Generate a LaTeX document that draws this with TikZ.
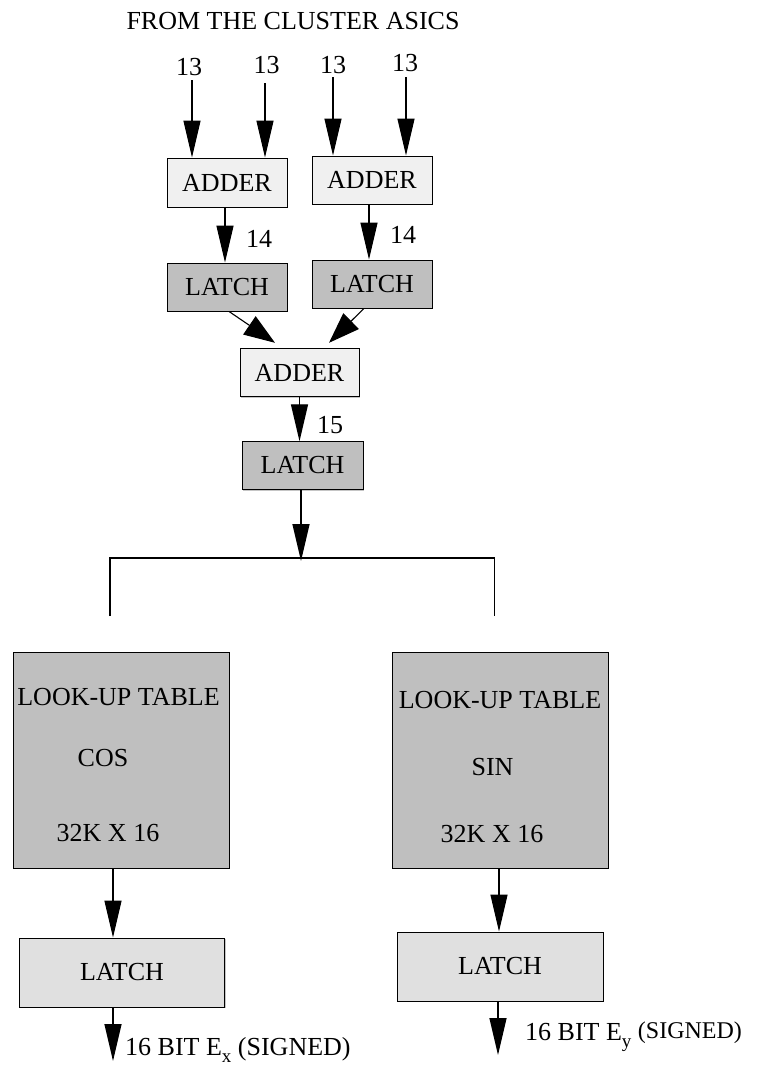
\documentclass[tikz,border=0pt]{standalone}
\usepackage{fontspec}
\setmainfont{Liberation Serif}
\usetikzlibrary{arrows.meta,shadows}
\definecolor{adderfill}{gray}{0.94}
\definecolor{latchfill}{gray}{0.75}
\definecolor{outfill}{gray}{0.88}
\begin{document}
\begin{tikzpicture}[x=1pt,y=-1pt,
  every node/.style={font=\fontsize{26}{30}\selectfont},
  blk/.style={draw=black, line width=0.9pt, inner sep=0pt,
    drop shadow={shadow xshift=1.3pt, shadow yshift=-1.3pt, opacity=0.45}},
  adderbox/.style={blk, fill=adderfill},
  latchbox/.style={blk, fill=latchfill},
  outbox/.style={blk, fill=outfill},
  lbl/.style={inner sep=0pt},
  arr/.style={line width=1.3pt, -{Triangle[length=37pt,width=17pt]}},
  darr/.style={line width=1.1pt, -{Triangle[length=31pt,width=22pt]}},
  wire/.style={line width=1.1pt}
]
\fill[white] (0,0) rectangle (756,1068);
\useasboundingbox (0,0) rectangle (756,1068);

% title
\node[lbl] (title) at (293,21.5) {FROM THE CLUSTER ASICS};

% first stage
\node[adderbox, minimum width=120pt, minimum height=49pt] (a1) at (227,182.5) {ADDER};
\node[adderbox, minimum width=120pt, minimum height=48pt] (a2) at (372,180) {ADDER};
\node[latchbox, minimum width=120pt, minimum height=48pt] (l1) at (227,287) {LATCH};
\node[latchbox, minimum width=120pt, minimum height=48pt] (l2) at (372,284) {LATCH};

% second stage
\node[adderbox, minimum width=119pt, minimum height=48.5pt] (a3) at (299.5,372.5) {ADDER};
\node[latchbox, minimum width=121pt, minimum height=47.5pt] (l3) at (302.5,465.5) {LATCH};

% look-up tables
\node[latchbox, minimum width=216pt, minimum height=216pt] (lutc) at (121,760) {};
\node[latchbox, minimum width=216pt, minimum height=216pt] (luts) at (500,760) {};
\node[lbl] (tc1) at (118.5,697.5) {LOOK-UP TABLE};
\node[lbl] (tc2) at (103,758.5) {COS};
\node[lbl] (tc3) at (108,833.5) {32K X 16};
\node[lbl] (ts1) at (500,700) {LOOK-UP TABLE};
\node[lbl] (ts2) at (492.5,767.5) {SIN};
\node[lbl] (ts3) at (492,834.5) {32K X 16};

% output latches
\node[outbox, minimum width=205pt, minimum height=69pt] (lx) at (122,972.5) {LATCH};
\node[outbox, minimum width=206pt, minimum height=69pt] (ly) at (500,966.5) {LATCH};

% input arrows
\coordinate (i1) at (192,80);
\coordinate (i2) at (265,83);
\coordinate (i3) at (333,77);
\coordinate (i4) at (406,77);
\node[lbl] (n1) at (189,67) {13};
\node[lbl] (n2) at (266.5,65) {13};
\node[lbl] (n3) at (333,65.5) {13};
\node[lbl] (n4) at (405,63) {13};
\draw[arr] (i1) -- (i1 |- a1.north);
\draw[arr] (i2) -- (i2 |- a1.north);
\draw[arr] (i3) -- (i3 |- a2.north);
\draw[arr] (i4) -- (i4 |- a2.north);

% adder -> latch
\coordinate (x1) at (225,0);
\coordinate (x2) at (369,0);
\draw[arr] (a1.south -| x1) -- (l1.north -| x1);
\draw[arr] (a2.south -| x2) -- (l2.north -| x2);
\node[lbl] (w1) at (259,238.5) {14};
\node[lbl] (w2) at (403,235) {14};

% latches -> adder (diagonal)
\coordinate (d1s) at (229,0);
\coordinate (d1e) at (275,0);
\coordinate (d2s) at (364,0);
\coordinate (d2e) at (329,0);
\draw[darr] (l1.south -| d1s) -- ([yshift=5pt]a3.north -| d1e);
\draw[darr] (l2.south -| d2s) -- ([yshift=5pt]a3.north -| d2e);

% adder -> latch 3
\coordinate (x3) at (299.5,0);
\draw[arr] (a3.south -| x3) -- (l3.north -| x3);
\node[lbl] (w3) at (330,425.5) {15};

% split bracket
\coordinate (sp) at (301,558);
\coordinate (bl) at (110,558);
\coordinate (br) at (494.5,558);
\coordinate (bld) at (110,616);
\coordinate (brd) at (494.5,616);
\draw[arr] (l3.south -| sp) -- ([yshift=-3pt]sp);
\draw[wire] (bld) -- (bl) -- (br) -- (brd);

% lut -> latch
\coordinate (x4) at (113,0);
\coordinate (x5) at (499,0);
\draw[arr] (lutc.south -| x4) -- (lx.north -| x4);
\draw[arr] (luts.south -| x5) -- (ly.north -| x5);

% outputs
\coordinate (ox) at (113,1061);
\coordinate (oy) at (498,1055);
\draw[arr] (lx.south -| ox) -- (ox);
\draw[arr] (ly.south -| oy) -- (oy);
\node[lbl, anchor=base west] (ex) at (125,1055) {16 BIT E\raisebox{-7pt}{\fontsize{19}{19}\selectfont x} (SIGNED)};
\node[lbl, anchor=base west] (ey) at (525,1040) {16 BIT E\raisebox{-7pt}{\fontsize{19}{19}\selectfont y} \raisebox{2pt}{\fontsize{24}{28}\selectfont (SIGNED)}};
\end{tikzpicture}
\end{document}
